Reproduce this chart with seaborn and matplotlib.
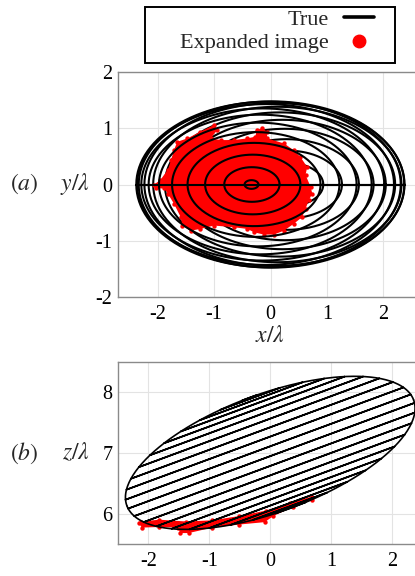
import numpy as np
import pandas as pd
import matplotlib
matplotlib.use("Agg")
import matplotlib.pyplot as plt
from matplotlib.lines import Line2D
from matplotlib.patches import Rectangle
import seaborn as sns

# ---- true object: tilted ellipsoid drawn by its latitude rings ----
ellipsoid_center = [0.0, 0.0, 7.0]          # x, y, z  (in wavelengths)
ellipsoid_semi_axes = [2.51, 1.48, 0.97]    # along x', y, z'
ellipsoid_tilt_deg = 20.3                   # rotation about the y axis
ring_latitudes_deg = [87, 78, 69, 60, 51, 42, 33, 24, 15, 6,
                      -3, -12, -21, -30, -39, -48, -57, -66, -75, -84]

# ---- expanded image: outline of the recovered point cloud ----
img_xy_x = [-1.65, -1.47, -1.24, -1.00, -0.94, -1.06, -0.88, -0.65, -0.41, -0.27,
            -0.24, -0.15, -0.06, -0.06, 0.24, 0.41, 0.53, 0.65, 0.62, 0.71,
            0.74, 0.68, 0.62, 0.56, 0.41, 0.24, 0.06, -0.12, -0.29, -0.41,
            -0.65, -1.00, -1.24, -1.41, -1.56, -1.59, -1.71, -1.82, -1.88, -2.03,
            -2.06, -1.95, -1.82, -1.76, -1.71]
img_xy_y = [0.76, 0.82, 0.94, 1.06, 0.97, 0.82, 0.79, 0.79, 0.82, 0.85,
            0.97, 1.00, 0.94, 0.82, 0.73, 0.61, 0.49, 0.31, 0.17, -0.04,
            -0.16, -0.28, -0.43, -0.58, -0.70, -0.82, -0.89, -0.89, -0.85, -0.79,
            -0.76, -0.73, -0.79, -0.82, -0.73, -0.58, -0.34, -0.16, -0.07, -0.07,
            0.00, 0.08, 0.26, 0.43, 0.61]
img_xz_x = [-2.13, -1.82, -1.38, -0.95, -0.51, -0.07, 0.32, 0.68, 0.68, 0.38,
            0.05, -0.09, -0.51, -0.95, -1.34, -1.48, -1.51, -1.82, -2.11, -2.15]
img_xz_z = [5.87, 5.90, 5.87, 5.89, 5.96, 6.05, 6.18, 6.28, 6.22, 6.11,
            5.96, 5.86, 5.82, 5.77, 5.68, 5.68, 5.77, 5.78, 5.77, 5.84]

xticks = [-2, -1, 0, 1, 2]
yticks = [-2, -1, 0, 1, 2]
zticks = [6, 7, 8]


def ellipsoid_rings():
    """Latitude rings plus the y=0 meridian of the tilted ellipsoid."""
    a, b, c = ellipsoid_semi_axes
    th = np.deg2rad(ellipsoid_tilt_deg)
    psi = np.linspace(0, 2 * np.pi, 241)
    rows = []
    for k, lat in enumerate(ring_latitudes_deg):
        ph = np.deg2rad(lat)
        xp = a * np.cos(ph) * np.cos(psi)
        zp = c * np.sin(ph) * np.ones_like(psi)
        y = b * np.cos(ph) * np.sin(psi)
        x = xp * np.cos(th) - zp * np.sin(th) + ellipsoid_center[0]
        z = xp * np.sin(th) + zp * np.cos(th) + ellipsoid_center[2]
        rows.append(pd.DataFrame({"x": x, "y": y + ellipsoid_center[1], "z": z,
                                  "ring": k, "upper": lat > 0}))
    # meridian in the y = 0 plane, split into upper and lower halves
    for k, (lo, hi) in enumerate([(0, np.pi), (np.pi, 2 * np.pi)]):
        t = np.linspace(lo, hi, 181)
        xp = a * np.cos(t)
        zp = c * np.sin(t)
        x = xp * np.cos(th) - zp * np.sin(th) + ellipsoid_center[0]
        z = xp * np.sin(th) + zp * np.cos(th) + ellipsoid_center[2]
        rows.append(pd.DataFrame({"x": x, "y": np.zeros_like(t) + ellipsoid_center[1],
                                  "z": z, "ring": 100 + k, "upper": k == 0}))
    return pd.concat(rows, ignore_index=True)


rings = ellipsoid_rings()

sns.set_style("whitegrid", {"grid.color": "#e3e3e3", "axes.edgecolor": "#8a8a8a"})
plt.rcParams["font.family"] = ["Liberation Serif", "DejaVu Serif"]
plt.rcParams["mathtext.fontset"] = "stix"
plt.rcParams["axes.unicode_minus"] = False

W, H = 415, 576
fig = plt.figure(figsize=(W / 100, H / 100), dpi=100)

ax_a = fig.add_axes([118 / W, 1 - 297 / H, 305 / W, 225 / H])
ax_b = fig.add_axes([118 / W, 1 - 544 / H, 304.5 / W, 182.3 / H])

red = "#ff0000"

# (a) top view: rings on the upper half are in front of the image points
ax_a.fill(img_xy_x, img_xy_y, color=red, lw=0, zorder=2)
sns.scatterplot(x=img_xy_x, y=img_xy_y, color=red, s=10, linewidth=0,
                ax=ax_a, zorder=2, legend=False)
for upper, z in [(False, 1.5), (True, 3)]:
    part = rings[rings["upper"] == upper]
    sns.lineplot(data=part, x="x", y="y", units="ring", estimator=None,
                 sort=False, color="black", lw=1.5, ax=ax_a, zorder=z,
                 legend=False)

# (b) side view
ax_b.fill(img_xz_x, img_xz_z, color=red, lw=0, zorder=2)
sns.scatterplot(x=img_xz_x, y=img_xz_z, color=red, s=10, linewidth=0,
                ax=ax_b, zorder=2, legend=False)
sns.lineplot(data=rings, x="x", y="z", units="ring", estimator=None,
             sort=False, color="black", lw=1.2, ax=ax_b, zorder=3, legend=False)

ax_a.set_xlim(-2.7, 2.7)
ax_a.set_ylim(-2, 2)
ax_a.set_xticks(xticks)
ax_a.set_yticks(yticks)
ax_b.set_xlim(-2.5, 2.5)
ax_b.set_ylim(5.5, 8.5)
ax_b.set_xticks(xticks)
ax_b.set_yticks(zticks)

for ax in (ax_a, ax_b):
    ax.set_xlabel("")
    ax.set_ylabel("")
    ax.tick_params(length=0, labelsize=14.5, colors="black")
    ax.tick_params(axis="x", pad=6)
    ax.tick_params(axis="y", pad=4)
    ax.grid(True, lw=0.8)
    for s in ax.spines.values():
        s.set_linewidth(1.0)
        s.set_color("#8a8a8a")

# axis and panel labels
fig.text(270 / W, 1 - 336 / H, r"$x/\lambda$", ha="center", va="center", fontsize=17)
fig.text(75 / W, 1 - 184 / H, r"$y/\lambda$", ha="center", va="center", fontsize=17)
fig.text(24 / W, 1 - 184 / H, r"$(a)$", ha="center", va="center", fontsize=17)
fig.text(76 / W, 1 - 453 / H, r"$z/\lambda$", ha="center", va="center", fontsize=17)
fig.text(24 / W, 1 - 453 / H, r"$(b)$", ha="center", va="center", fontsize=17)

# legend with a plain rectangular frame
fig.patches.append(Rectangle((145 / W, 1 - 63 / H), 250 / W, 56 / H,
                             transform=fig.transFigure, fill=False,
                             edgecolor="black", lw=1.4))
handles = [Line2D([], [], color="black", lw=2.6),
           Line2D([], [], color=red, marker="o", ms=9, ls="none")]
fig.legend(handles, ["True", "Expanded image"], loc="upper right",
           bbox_to_anchor=(374 / W, 1 - 9 / H), frameon=False, markerfirst=False,
           borderpad=0, borderaxespad=0, handlelength=1.35, handletextpad=0.7,
           labelspacing=0.15, fontsize=16)

fig.savefig("out.png", dpi=100)
